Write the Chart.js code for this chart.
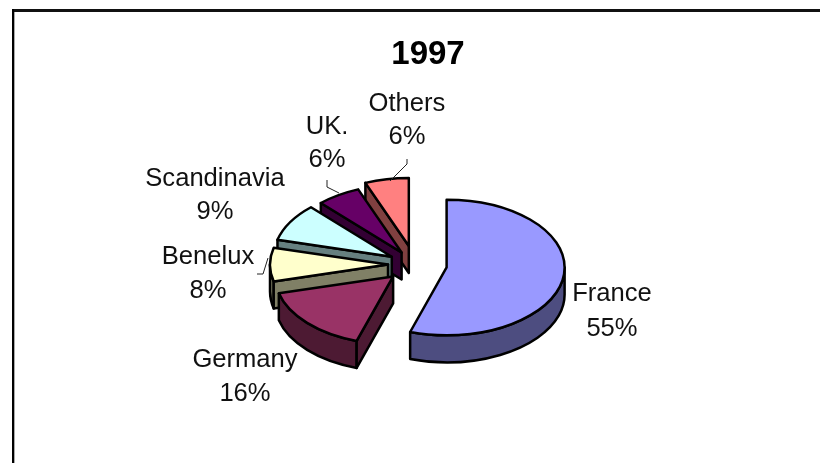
<!DOCTYPE html>
<html>
<head>
<meta charset="utf-8">
<style>html,body{margin:0;padding:0;background:#fff}canvas{display:block}</style>
<script src="https://cdn.jsdelivr.net/npm/chart.js@4"></script>
</head>
<body>
<canvas id="c" width="820" height="463"></canvas>
<script>
const titleText = '1997';
const categories = ['France', 'Germany', 'Benelux', 'Scandinavia', 'UK.', 'Others'];
const shares = [55, 16, 8, 9, 6, 6];

const topColors = ['#9999FF', '#993366', '#FFFFCC', '#CCFFFF', '#660066', '#FF8080'];
const sideColors = ['#4D4D80', '#4D1A33', '#808066', '#668080', '#330033', '#804040'];
const explode = [32, 30, 27, 27, 25, 33];
const labelAt = [[612, 294, 35], [245, 360, 34], [208, 257, 34], [215, 179, 33], [327, 127, 33], [407, 104, 33]];
const leaders = [
  [[257, 274], [263, 274], [268, 258]],
  [[327, 180], [327, 187], [339, 193]],
  [[407, 159], [407, 164], [390, 181]]
];
const paintOrder = [5, 4, 3, 2, 1, 0];
const view = {shiftX: -13, tilt: 0.575, depth: 27};

const pie3d = {
  id: 'pie3d',
  beforeDraw(chart) {
    const ctx = chart.ctx;
    ctx.save();
    ctx.fillStyle = '#fff';
    ctx.fillRect(0, 0, chart.width, chart.height);
    ctx.fillStyle = '#111';
    ctx.fillRect(12, 9, chart.width - 12, 3);
    ctx.fillStyle = '#000';
    ctx.fillRect(12, 9, 2, chart.height - 9);
    ctx.fillStyle = '#aaa';
    ctx.fillRect(14, 12, 1, chart.height - 12);
    ctx.restore();
  },
  beforeDatasetsDraw(chart) {
    const ctx = chart.ctx;
    const arcs = chart.getDatasetMeta(0).data;
    const {tilt, depth, shiftX} = view;
    ctx.save();
    ctx.lineJoin = 'round';
    ctx.strokeStyle = '#000';
    ctx.lineWidth = 2.5;
    paintOrder.forEach(i => {
      const arc = arcs[i];
      const mid = (arc.startAngle + arc.endAngle) / 2;
      const cx = arc.x + shiftX + Math.cos(mid) * explode[i];
      const cy = arc.y + Math.sin(mid) * explode[i] * tilt;
      const r = arc.outerRadius, ry = r * tilt;
      const a0 = arc.startAngle, a1 = arc.endAngle;
      ctx.fillStyle = sideColors[i];
      // outer rim (only the part facing the viewer)
      const v0 = Math.max(a0, 0), v1 = Math.min(a1, Math.PI);
      if (v1 > v0) {
        ctx.beginPath();
        ctx.ellipse(cx, cy, r, ry, 0, v0, v1, false);
        ctx.ellipse(cx, cy + depth, r, ry, 0, v1, v0, true);
        ctx.closePath();
        ctx.fill();
        ctx.stroke();
      }
      // cut faces
      const wall = a => {
        const px = cx + Math.cos(a) * r, py = cy + Math.sin(a) * ry;
        ctx.beginPath();
        ctx.moveTo(cx, cy);
        ctx.lineTo(px, py);
        ctx.lineTo(px, py + depth);
        ctx.lineTo(cx, cy + depth);
        ctx.closePath();
        ctx.fill();
        ctx.stroke();
      };
      if (Math.cos(a0) < -1e-6) wall(a0);
      if (Math.cos(a1) > 1e-6) wall(a1);
      // top face, drawn by the library's own arc element
      ctx.save();
      ctx.translate(cx, cy);
      ctx.scale(1, tilt);
      ctx.translate(-arc.x, -arc.y);
      arc.draw(ctx);
      ctx.restore();
      ctx.beginPath();
      ctx.moveTo(cx, cy);
      ctx.ellipse(cx, cy, r, ry, 0, a0, a1, false);
      ctx.closePath();
      ctx.stroke();
    });
    ctx.restore();
    return false;
  },
  afterDraw(chart) {
    const ctx = chart.ctx;
    ctx.save();
    ctx.strokeStyle = '#222';
    ctx.lineWidth = 1;
    leaders.forEach(l => {
      ctx.beginPath();
      l.forEach((p, k) => k ? ctx.lineTo(p[0], p[1]) : ctx.moveTo(p[0], p[1]));
      ctx.stroke();
    });
    ctx.fillStyle = '#111';
    ctx.font = '25.6px "Liberation Sans", Arial, sans-serif';
    ctx.textAlign = 'center';
    ctx.textBaseline = 'middle';
    categories.forEach((name, i) => {
      const [x, y, gap] = labelAt[i];
      ctx.fillText(name, x, y);
      ctx.fillText(shares[i] + '%', x, y + gap);
    });
    ctx.restore();
  }
};

new Chart(document.getElementById('c'), {
  type: 'pie',
  data: {
    labels: categories,
    datasets: [{data: shares, backgroundColor: topColors, borderWidth: 0}]
  },
  options: {
    responsive: false,
    animation: false,
    radius: 118,
    layout: {padding: {left: 36, right: 0, top: 0, bottom: 8.4}},
    plugins: {
      legend: {display: false},
      tooltip: {enabled: false},
      title: {
        display: true,
        text: titleText,
        color: '#000',
        font: {family: '"Liberation Sans", Arial, sans-serif', size: 33, weight: 'bold'},
        padding: {top: 35, bottom: 0}
      }
    }
  },
  plugins: [pie3d]
});
</script>
</body>
</html>
